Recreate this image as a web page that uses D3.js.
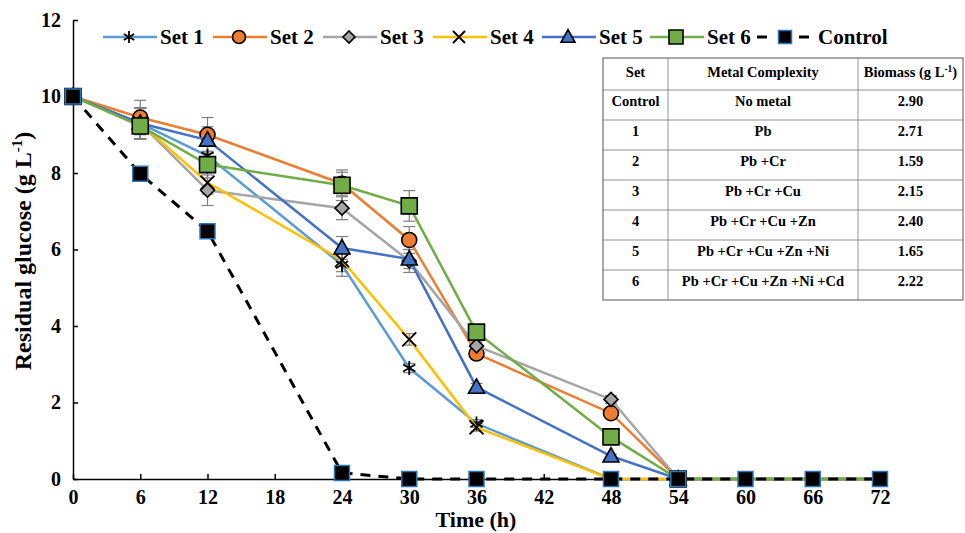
<!DOCTYPE html>
<html><head><meta charset="utf-8">
<script src="https://cdn.jsdelivr.net/npm/d3@7"></script>
<style>
body{margin:0;background:#fff;}
svg{display:block;}
</style></head>
<body><svg id="c" width="965" height="533" font-family="Liberation Serif" font-weight="bold"></svg>
<script>
const times = [0, 6, 12, 24, 30, 36, 48, 54, 60, 66, 72];
const xTicks = [0, 6, 12, 18, 24, 30, 36, 42, 48, 54, 60, 66, 72];
const yTicks = [0, 2, 4, 6, 8, 10, 12];

const set1 = [10, 9.3, 8.45, 5.6, 2.9, 1.45, 0, 0, 0, 0, 0];
const set2 = [10, 9.45, 9.0, 7.72, 6.25, 3.28, 1.72, 0, 0, 0, 0];
const set3 = [10, 9.3, 7.55, 7.08, 5.7, 3.48, 2.08, 0, 0, 0, 0];
const set4 = [10, 9.3, 7.75, 5.72, 3.65, 1.35, 0, 0, 0, 0, 0];
const set5 = [10, 9.3, 8.86, 6.04, 5.75, 2.4, 0.6, 0, 0, 0, 0];
const set6 = [10, 9.23, 8.22, 7.68, 7.14, 3.84, 1.1, 0, 0, 0, 0];
const control = [10, 7.98, 6.48, 0.16, 0, 0, 0, 0, 0, 0, 0];

const err1 = [0, 0.4, 0.3, 0.3, 0.12, 0.1, 0, 0, 0, 0, 0];
const err2 = [0, 0.45, 0.45, 0.3, 0.35, 0.1, 0.1, 0, 0, 0, 0];
const err3 = [0, 0.4, 0.4, 0.3, 0.3, 0.1, 0.1, 0, 0, 0, 0];
const err4 = [0, 0.4, 0.3, 0.3, 0.15, 0.1, 0, 0, 0, 0, 0];
const err5 = [0, 0.4, 0.35, 0.3, 0.25, 0.1, 0.05, 0, 0, 0, 0];
const err6 = [0, 0.35, 0.35, 0.4, 0.4, 0.1, 0.1, 0, 0, 0, 0];

const seriesNames = ["Set 1", "Set 2", "Set 3", "Set 4", "Set 5", "Set 6", "Control"];
const seriesColors = ["#5B9BD5", "#ED7D31", "#A5A5A5", "#FFC000", "#4472C4", "#70AD47", "#000000"];
const seriesMarkers = ["asterisk", "circle", "diamond", "times", "triangle", "square", "control"];

const tableHeader = ["Set", "Metal Complexity", "Biomass"];
const tableSets = ["Control", "1", "2", "3", "4", "5", "6"];
const tableMetals = ["No metal", "Pb", "Pb +Cr", "Pb +Cr +Cu", "Pb +Cr +Cu +Zn", "Pb +Cr +Cu +Zn +Ni", "Pb +Cr +Cu +Zn +Ni +Cd"];
const tableBiomass = ["2.90", "2.71", "1.59", "2.15", "2.40", "1.65", "2.22"];

const values = [set1, set2, set3, set4, set5, set6, control];
const errors = [err1, err2, err3, err4, err5, err6, null];

const FONT = "Liberation Serif";
const svg = d3.select("#c");
const x = d3.scaleLinear().domain([0, 72]).range([73, 880]);
const y = d3.scaleLinear().domain([0, 12]).range([479, 20]);

function txt(parent) {
  return parent.append("text").style("font-family", FONT).style("font-weight", "bold").attr("fill", "#000");
}

// axes
const gx = svg.append("g").attr("transform", `translate(0,${y(0)})`)
  .call(d3.axisBottom(x).tickValues(xTicks).tickSizeInner(-5).tickSizeOuter(0).tickPadding(11));
const gy = svg.append("g").attr("transform", `translate(${x(0)},0)`)
  .call(d3.axisLeft(y).tickValues(yTicks).tickSizeInner(-5).tickSizeOuter(0).tickPadding(12));
[gx, gy].forEach(g => {
  g.attr("font-family", FONT);
  g.selectAll("path,line").attr("stroke", "#000").attr("stroke-width", 1.5);
  g.selectAll("text").style("font-size", "20px").style("font-weight", "bold")
    .style("font-family", FONT).attr("fill", "#000");
});

txt(svg).attr("x", 476).attr("y", 527).attr("text-anchor", "middle")
  .style("font-size", "22px").text("Time (h)");
const yl = txt(svg).attr("transform", `translate(31,${251}) rotate(-90)`)
  .attr("text-anchor", "middle").style("font-size", "24px");
yl.append("tspan").text("Residual glucose (g L");
yl.append("tspan").attr("dy", -9).style("font-size", "15px").text("-1");
yl.append("tspan").attr("dy", 9).text(")");

function markerPath(type, size) {
  const s = size / 2;
  switch (type) {
    case "circle": return d3.symbol(d3.symbolCircle, size * size * Math.PI / 4)();
    case "square": case "control": return `M${-s},${-s}H${s}V${s}H${-s}Z`;
    case "diamond": return `M0,${-s}L${s},0L0,${s}L${-s},0Z`;
    case "triangle": return `M0,${-s * 1.05}L${s},${s * 0.75}L${-s},${s * 0.75}Z`;
    case "times": return `M${-s},${-s}L${s},${s}M${-s},${s}L${s},${-s}`;
    case "asterisk": {
      const u = s * Math.sqrt(3) / 2, t = s / 2;
      return `M0,${-s}V${s}M${-u},${-t}L${u},${t}M${-u},${t}L${u},${-t}`;
    }
  }
}
const markerSize = { circle: 15, square: 16, control: 15, diamond: 14, triangle: 16, times: 14, asterisk: 14 };
function styleMarker(sel, type, color) {
  if (type === "times" || type === "asterisk") {
    sel.attr("fill", "none").attr("stroke", "#000").attr("stroke-width", 1.8);
  } else if (type === "control") {
    sel.attr("fill", "#000").attr("stroke", "#2E75B6").attr("stroke-width", 1.5);
  } else {
    sel.attr("fill", color).attr("stroke", "#000").attr("stroke-width", 1.6);
  }
}

const line = d3.line().x((d, i) => x(times[i])).y(d => y(d));

// error bars
errors.forEach((e, k) => {
  if (!e) return;
  const g = svg.append("g").attr("stroke", "#7F7F7F").attr("stroke-width", 1.2);
  values[k].forEach((v, i) => {
    if (!e[i]) return;
    const cx = x(times[i]);
    g.append("line").attr("x1", cx).attr("x2", cx).attr("y1", y(v - e[i])).attr("y2", y(v + e[i]));
    g.append("line").attr("x1", cx - 6).attr("x2", cx + 6).attr("y1", y(v - e[i])).attr("y2", y(v - e[i]));
    g.append("line").attr("x1", cx - 6).attr("x2", cx + 6).attr("y1", y(v + e[i])).attr("y2", y(v + e[i]));
  });
});

// series
values.forEach((vals, k) => {
  const g = svg.append("g");
  const isCtrl = k === 6;
  g.append("path").attr("d", line(vals)).attr("fill", "none")
    .attr("stroke", seriesColors[k]).attr("stroke-width", isCtrl ? 3 : 2.5)
    .attr("stroke-dasharray", isCtrl ? "10,8" : null);
  vals.forEach((v, i) => {
    if (!isCtrl && times[i] > 54) return;
    const m = g.append("path").attr("d", markerPath(seriesMarkers[k], markerSize[seriesMarkers[k]]))
      .attr("transform", `translate(${x(times[i])},${y(v)})`);
    styleMarker(m, seriesMarkers[k], seriesColors[k]);
  });
});

// legend
const legX = [103, 213, 323, 433, 542, 650, 757];
const leg = svg.append("g");
seriesNames.forEach((name, k) => {
  const lx = legX[k], ly = 37;
  const isCtrl = k === 6;
  if (isCtrl) {
    leg.append("line").attr("x1", lx).attr("x2", lx + 10).attr("y1", ly).attr("y2", ly).attr("stroke", "#000").attr("stroke-width", 3);
    leg.append("line").attr("x1", lx + 42).attr("x2", lx + 52).attr("y1", ly).attr("y2", ly).attr("stroke", "#000").attr("stroke-width", 3);
  } else {
    leg.append("line").attr("x1", lx).attr("x2", lx + 54).attr("y1", ly).attr("y2", ly)
      .attr("stroke", seriesColors[k]).attr("stroke-width", 2.5);
  }
  const cx = isCtrl ? lx + 28 : lx + 26;
  const m = leg.append("path").attr("d", markerPath(seriesMarkers[k], markerSize[seriesMarkers[k]] - 2))
    .attr("transform", `translate(${cx},${ly})`);
  styleMarker(m, seriesMarkers[k], seriesColors[k]);
  txt(leg).attr("x", isCtrl ? lx + 61 : lx + 57).attr("y", ly + 7).style("font-size", "21px").text(name);
});

// table
const colX = [603, 668, 858, 963];
const rowY = [58, 90, 120, 150, 180, 210, 240, 270, 300];
const tb = svg.append("g");
tb.append("rect").attr("x", colX[0]).attr("y", rowY[0]).attr("width", colX[3] - colX[0]).attr("height", rowY[8] - rowY[0])
  .attr("fill", "#fff").attr("stroke", "#555").attr("stroke-width", 1);
rowY.slice(1, 8).forEach(ry => tb.append("line").attr("x1", colX[0]).attr("x2", colX[3]).attr("y1", ry).attr("y2", ry).attr("stroke", "#777").attr("stroke-width", 0.8));
colX.slice(1, 3).forEach(cx => tb.append("line").attr("x1", cx).attr("x2", cx).attr("y1", rowY[0]).attr("y2", rowY[8]).attr("stroke", "#777").attr("stroke-width", 0.8));
const colC = [(colX[0] + colX[1]) / 2, (colX[1] + colX[2]) / 2, (colX[2] + colX[3]) / 2];
tableHeader.forEach((h, j) => {
  const t = txt(tb).attr("x", colC[j]).attr("y", 77).attr("text-anchor", "middle").style("font-size", "14.5px");
  if (j === 2) {
    t.append("tspan").text("Biomass (g L");
    t.append("tspan").attr("dy", -5).style("font-size", "9.5px").text("-1");
    t.append("tspan").attr("dy", 5).text(")");
  } else t.text(h);
});
tableSets.forEach((s, i) => {
  const ty = rowY[i + 1] + 11 + 5;
  [s, tableMetals[i], tableBiomass[i]].forEach((v, j) => {
    txt(tb).attr("x", colC[j]).attr("y", ty).attr("text-anchor", "middle").style("font-size", "14.5px").text(v);
  });
});
</script></body></html>
